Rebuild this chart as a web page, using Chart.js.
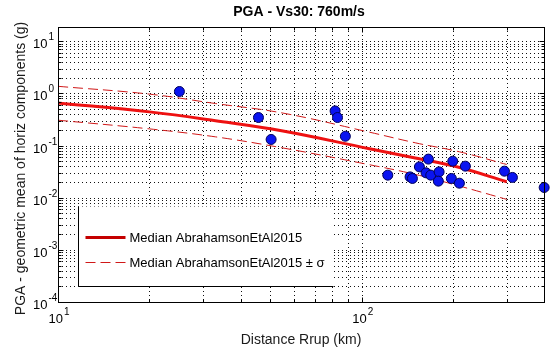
<!DOCTYPE html>
<html>
<head>
<meta charset="utf-8">
<script src="https://cdn.jsdelivr.net/npm/chart.js@4.4.1/dist/chart.umd.min.js"></script>
<style>
  html, body { margin: 0; padding: 0; background: #fff; }
  #wrap { width: 558px; height: 349px; }
</style>
</head>
<body>
<div id="wrap"><canvas id="pgaChart" width="558" height="349"></canvas></div>
<script>
// GMPE curve sampled at these rupture distances (km)
const curveDist = [10, 20, 33, 55, 105, 150, 210, 300];
const medianPga = [0.658, 0.443, 0.30, 0.19, 0.088, 0.058, 0.038, 0.0202];
const plusSigmaPga = [1.37, 0.97, 0.64, 0.42, 0.183, 0.113, 0.0758, 0.0434];
const minusSigmaPga = [0.307, 0.209, 0.147, 0.090, 0.0434, 0.028, 0.0167, 0.0093];

// recorded stations: Rrup (km) and geometric-mean PGA (g)
const stationRrup = [25.1, 45.7, 50.3, 81.7, 83.2, 88.3, 121.8, 144.2, 146.8, 154.8, 165.7,
  162.8, 168.7, 179.7, 178.7, 199.3, 197.2, 209.6, 219.3, 294.9, 313.3, 398.5];
const stationPga = [1.09, 0.345, 0.131, 0.462, 0.345, 0.151, 0.0271, 0.0251, 0.0234, 0.039, 0.055,
  0.030, 0.0271, 0.0313, 0.0208, 0.0502, 0.0234, 0.019, 0.0403, 0.0323, 0.0245, 0.0157];

// axes
const xMin = 10, xMax = 398;
const yMin = 1e-4, yMax = 18.8;
const xDecades = [1, 2];
const yDecades = [-4, -3, -2, -1, 0, 1];
const xMinorGrid = [20, 30, 40, 50, 60, 70, 80, 90, 200, 300];

const legendLabels = ['Median AbrahamsonEtAl2015', 'Median AbrahamsonEtAl2015 \u00b1 \u03c3'];
const titleText = 'PGA - Vs30: 760m/s';
const xTitle = 'Distance Rrup (km)';
const yTitle = 'PGA - geometric mean of horiz components (g)';

const FONT = '"Liberation Sans", Arial, Helvetica, sans-serif';
const LINE_RED = '#ee1111';
const DASH_RED = '#d01818';

const toPoints = (xs, ys) => xs.map((x, i) => ({ x: x, y: ys[i] }));

// minor grid on y: 1..9 x 10^d for every full decade
const yGridValues = [];
yDecades.forEach(d => {
  if (d === yDecades[yDecades.length - 1]) { yGridValues.push(Math.pow(10, d)); return; }
  for (let k = 1; k <= 9; k++) yGridValues.push(k * Math.pow(10, d));
});
const xGridValues = xDecades.map(d => Math.pow(10, d)).concat(xMinorGrid);

// "10" with a superscript exponent
function drawPow(ctx, x, y, exp, centered) {
  ctx.font = '13px ' + FONT;
  const base = '10';
  const bw = ctx.measureText(base).width;
  ctx.font = '10px ' + FONT;
  const ew = ctx.measureText(String(exp)).width;
  const start = centered ? x - (bw + 1 + ew) / 2 : x;
  ctx.textAlign = 'left';
  ctx.textBaseline = 'alphabetic';
  ctx.font = '13px ' + FONT;
  ctx.fillText(base, start, y);
  ctx.font = '10px ' + FONT;
  ctx.fillText(String(exp), start + bw + 1, y - 8);
}

const matlabAxes = {
  id: 'matlabAxes',
  beforeDraw(chart) {
    const ctx = chart.ctx;
    ctx.save();
    ctx.fillStyle = '#fff';
    ctx.fillRect(0, 0, chart.width, chart.height);
    ctx.restore();
  },
  beforeDatasetsDraw(chart) {
    const { ctx, chartArea: a, scales: { x, y } } = chart;
    ctx.save();
    ctx.strokeStyle = '#111';
    ctx.lineWidth = 1;
    ctx.setLineDash([1, 3]);
    ctx.beginPath();
    xGridValues.forEach(v => {
      const px = Math.round(x.getPixelForValue(v)) + 0.5;
      ctx.moveTo(px, a.top);
      ctx.lineTo(px, a.bottom);
    });
    yGridValues.forEach(v => {
      const py = Math.round(y.getPixelForValue(v)) + 0.5;
      ctx.moveTo(a.left, py);
      ctx.lineTo(a.right, py);
    });
    ctx.stroke();
    ctx.restore();
  },
  afterDatasetsDraw(chart) {
    const { ctx, chartArea: a, scales: { x, y } } = chart;
    const L = Math.round(a.left) + 0.5, R = Math.round(a.right) + 0.5;
    const T = Math.round(a.top) + 0.5, B = Math.round(a.bottom) + 0.5;
    ctx.save();

    // legend box (only left and bottom edges are drawn)
    const lg = { left: L + 20, top: B - 96, right: L + 275, bottom: B - 16 };
    ctx.fillStyle = '#fff';
    ctx.fillRect(lg.left, lg.top, lg.right - lg.left, lg.bottom - lg.top);
    ctx.strokeStyle = '#000';
    ctx.lineWidth = 1;
    ctx.beginPath();
    ctx.moveTo(lg.left, lg.top);
    ctx.lineTo(lg.left, lg.bottom);
    ctx.lineTo(lg.right, lg.bottom);
    ctx.stroke();

    const rowY = [lg.top + 31, lg.top + 56];
    ctx.strokeStyle = '#c40000';
    ctx.lineWidth = 3;
    ctx.beginPath();
    ctx.moveTo(lg.left + 7, rowY[0]);
    ctx.lineTo(lg.left + 47, rowY[0]);
    ctx.stroke();
    ctx.strokeStyle = DASH_RED;
    ctx.lineWidth = 1;
    ctx.setLineDash([10, 5]);
    ctx.beginPath();
    ctx.moveTo(lg.left + 7, rowY[1]);
    ctx.lineTo(lg.left + 47, rowY[1]);
    ctx.stroke();
    ctx.setLineDash([]);
    ctx.fillStyle = '#000';
    ctx.font = '13px ' + FONT;
    ctx.textAlign = 'left';
    ctx.textBaseline = 'middle';
    legendLabels.forEach((t, i) => ctx.fillText(t, lg.left + 51, rowY[i] + 1));

    // axes box
    ctx.strokeStyle = '#000';
    ctx.lineWidth = 1;
    ctx.strokeRect(L, T, R - L, B - T);

    // inward tick marks
    ctx.beginPath();
    yGridValues.concat([yMin]).forEach(v => {
      const py = Math.round(y.getPixelForValue(v)) + 0.5;
      const len = Math.abs(Math.log10(v) - Math.round(Math.log10(v))) < 1e-6 ? 5 : 3;
      ctx.moveTo(L, py); ctx.lineTo(L + len, py);
      ctx.moveTo(R, py); ctx.lineTo(R - len, py);
    });
    xGridValues.forEach(v => {
      const px = Math.round(x.getPixelForValue(v)) + 0.5;
      const len = Math.abs(Math.log10(v) - Math.round(Math.log10(v))) < 1e-6 ? 5 : 3;
      ctx.moveTo(px, B); ctx.lineTo(px, B - len);
      ctx.moveTo(px, T); ctx.lineTo(px, T + len);
    });
    ctx.stroke();

    // tick labels
    ctx.fillStyle = '#000';
    yDecades.forEach(d => {
      const py = y.getPixelForValue(Math.pow(10, d));
      drawPow(ctx, a.left - 25, py + 7, d, false);
    });
    xDecades.forEach(d => {
      const px = x.getPixelForValue(Math.pow(10, d));
      drawPow(ctx, px + 1, a.bottom + 21, d, true);
    });

    // titles
    ctx.textAlign = 'center';
    ctx.textBaseline = 'alphabetic';
    ctx.font = 'bold 14px ' + FONT;
    ctx.fillText(titleText, (a.left + a.right) / 2 - 2, 16);
    ctx.font = '14px ' + FONT;
    ctx.fillStyle = '#1a1a1a';
    ctx.fillText(xTitle, (a.left + a.right) / 2, a.bottom + 42);
    ctx.translate(25, (a.top + a.bottom) / 2 + 4);
    ctx.rotate(-Math.PI / 2);
    ctx.fillText(yTitle, 0, 0);
    ctx.restore();
  }
};

new Chart(document.getElementById('pgaChart'), {
  type: 'scatter',
  data: {
    datasets: [
      {
        type: 'line',
        label: legendLabels[0],
        data: toPoints(curveDist, medianPga),
        borderColor: LINE_RED,
        borderWidth: 3,
        pointRadius: 0,
        tension: 0.4,
        order: 2
      },
      {
        type: 'line',
        label: legendLabels[1],
        data: toPoints(curveDist, plusSigmaPga),
        borderColor: DASH_RED,
        borderWidth: 1,
        borderDash: [10, 5],
        pointRadius: 0,
        tension: 0.4,
        order: 3
      },
      {
        type: 'line',
        label: 'minus sigma',
        data: toPoints(curveDist, minusSigmaPga),
        borderColor: DASH_RED,
        borderWidth: 1,
        borderDash: [10, 5],
        pointRadius: 0,
        tension: 0.4,
        order: 3
      },
      {
        label: 'stations',
        data: toPoints(stationRrup, stationPga),
        backgroundColor: '#0a14f0',
        borderColor: '#00005a',
        borderWidth: 1,
        pointRadius: 5,
        clip: false,
        order: 1
      }
    ]
  },
  options: {
    responsive: false,
    animation: false,
    layout: { padding: { left: 58, top: 27, right: 14, bottom: 47 } },
    plugins: {
      legend: { display: false },
      title: { display: false },
      tooltip: { enabled: false }
    },
    scales: {
      x: { type: 'logarithmic', min: xMin, max: xMax, display: false },
      y: { type: 'logarithmic', min: yMin, max: yMax, display: false }
    }
  },
  plugins: [matlabAxes]
});
</script>
</body>
</html>
